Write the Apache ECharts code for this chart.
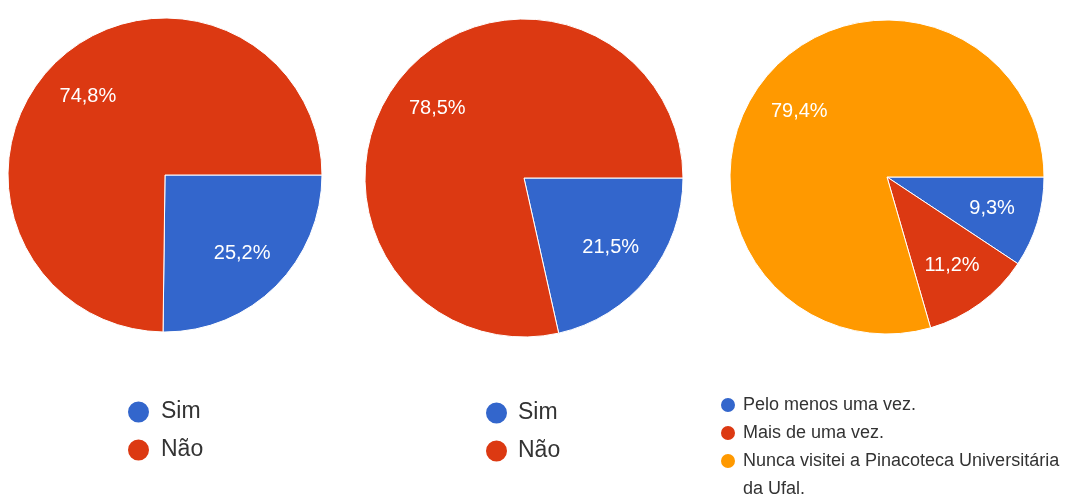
<!DOCTYPE html>
<html>
<head>
<meta charset="utf-8">
<script src="https://cdn.jsdelivr.net/npm/echarts@6/dist/echarts.min.js"></script>
<style>
  html, body { margin: 0; padding: 0; background: #fff; }
  #chart { width: 1067px; height: 494px; }
</style>
</head>
<body>
<div id="chart"></div>
<script>
// pergunta 1 e 2: Sim / Não
const simNao = ['Sim', 'Não']
const pie1Values = [25.2, 74.8]
const pie2Values = [21.5, 78.5]

// pergunta 3: visitas à Pinacoteca
const visitas = ['Pelo menos uma vez.', 'Mais de uma vez.', 'Nunca visitei a Pinacoteca Universitária da Ufal.']
const pie3Values = [9.3, 11.2, 79.4]

const colors = ['#3366cc', '#dc3912', '#ff9900']
const font = 'Liberation Sans, Arial, sans-serif'

function fmt(v) {
  return v.toFixed(1).replace('.', ',') + '%'
}

function toData(names, values, withColor) {
  return names.map((n, i) => {
    const item = { name: n, value: values[i] }
    if (withColor) item.itemStyle = { color: colors[i] }
    return item
  })
}

function basePie(names, values, center, radius) {
  return {
    type: 'pie',
    center: center,
    radius: radius,
    startAngle: 0,
    clockwise: true,
    label: { show: false },
    labelLine: { show: false },
    itemStyle: { borderColor: '#fff', borderWidth: 1 },
    emphasis: { disabled: true },
    data: toData(names, values, true)
  }
}

// transparent copy only used to place the percentage labels further out
function labelPie(names, values, center, radius) {
  return {
    type: 'pie',
    center: center,
    radius: [radius * 0.36, radius],
    startAngle: 0,
    clockwise: true,
    silent: true,
    label: {
      show: true,
      position: 'inside',
      color: '#fff',
      fontFamily: font,
      fontSize: 20,
      formatter: p => fmt(p.value)
    },
    labelLine: { show: false },
    itemStyle: { color: 'transparent', borderWidth: 0 },
    emphasis: { disabled: true },
    data: toData(names, values, false)
  }
}

// long label wraps after "Universitária"; the empty first line keeps
// the first text line level with the legend dot
function wrapLegend(name) {
  if (name.indexOf(' da Ufal.') < 0) return name
  return '\n' + name.replace(' da Ufal.', '\nda Ufal.')
}

const chart = echarts.init(document.getElementById('chart'))

chart.setOption({
  animation: false,
  legend: [
    {
      orient: 'vertical',
      left: 121,
      top: 394,
      icon: 'circle',
      itemWidth: 23,
      itemHeight: 23,
      itemGap: 12,
      data: simNao,
      textStyle: { fontFamily: font, fontSize: 23, lineHeight: 26, color: '#333', padding: [0, 0, 0, 6] }
    },
    {
      orient: 'vertical',
      left: 479,
      top: 395,
      icon: 'circle',
      itemWidth: 23,
      itemHeight: 23,
      itemGap: 12,
      data: simNao,
      textStyle: { fontFamily: font, fontSize: 23, lineHeight: 26, color: '#333', padding: [0, 0, 0, 5] }
    },
    {
      // horizontal + narrow width so every item goes on its own row
      orient: 'horizontal',
      left: 714,
      top: 386,
      width: 345,
      icon: 'circle',
      itemWidth: 16,
      itemHeight: 16,
      itemGap: 0,
      formatter: wrapLegend,
      data: visitas,
      textStyle: { fontFamily: font, fontSize: 18, lineHeight: 28, color: '#333', padding: [0, 0, 0, 2] }
    }
  ],
  series: [
    basePie(simNao, pie1Values, [165, 175], 157),
    basePie(simNao, pie2Values, [524, 178], 159),
    basePie(visitas, pie3Values, [887, 177], 157),
    labelPie(simNao, pie1Values, [165, 175], 157),
    labelPie(simNao, pie2Values, [524, 178], 159),
    labelPie(visitas, pie3Values, [887, 177], 157)
  ]
})
</script>
</body>
</html>
